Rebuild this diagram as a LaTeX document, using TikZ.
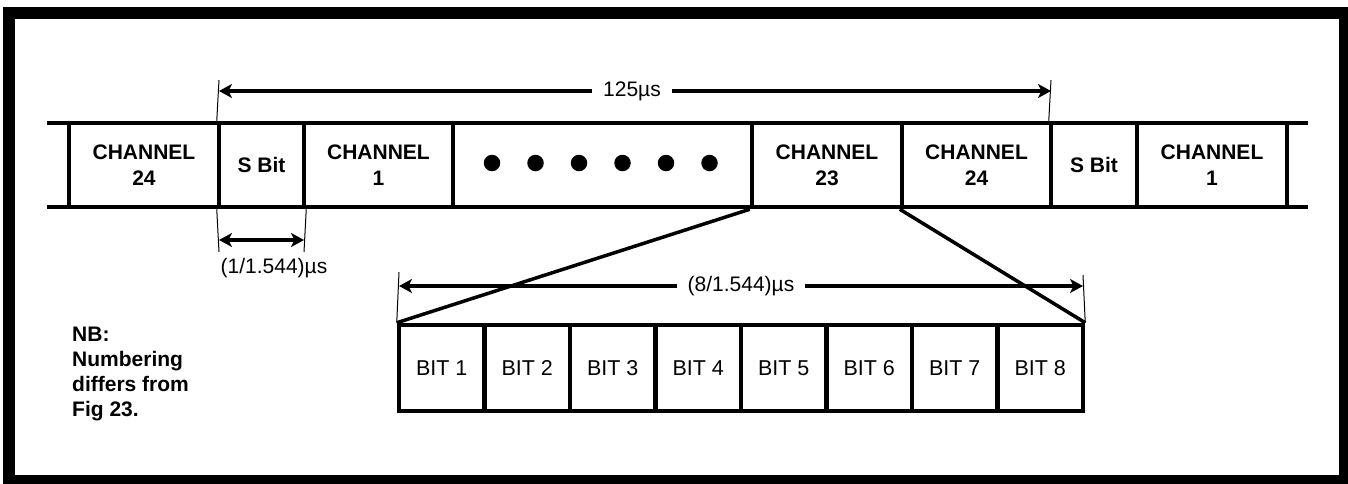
\documentclass[tikz,border=0pt]{standalone}
\usepackage{fontspec}
\setmainfont{Liberation Sans}
\usetikzlibrary{arrows.meta}
\begin{document}
\begin{tikzpicture}[x=1pt,y=-1pt,
  cell/.style={draw, line width=4.5pt, minimum height=84pt, inner sep=0pt,
    font=\bfseries\fontsize{21}{26}\selectfont, align=center},
  bitcell/.style={draw, line width=4.5pt, minimum height=86pt, minimum width=85.5pt,
    inner sep=0pt, font=\fontsize{21.5}{26}\selectfont},
  dotmark/.style={circle, fill, inner sep=0pt, minimum size=16.5pt},
  dimline/.style={line width=3.5pt,
    {Stealth[length=13pt,width=14pt,inset=3.5pt]}-{Stealth[length=13pt,width=14pt,inset=3.5pt]}},
  extline/.style={line width=1pt},
  rowline/.style={line width=4.5pt},
  dimlabel/.style={fill=white, inner xsep=11pt, inner ysep=2pt, font=\fontsize{21}{26}\selectfont},
  fanline/.style={line width=3.5pt}]
\useasboundingbox (0,0) rectangle (1348,483);
% outer border
\draw[line width=12pt] (8.5,13) rectangle (1345,481);

% frame row
\coordinate (lnw) at (47,123);
\coordinate (lsw) at (47,207);
\coordinate (rne) at (1308,123);
\coordinate (rse) at (1308,207);
\draw[rowline] (lnw) -- (rne);
\draw[rowline] (lsw) -- (rse);

\node[cell, minimum width=150pt] (c24a) at (144,165) {CHANNEL\\24};
\node[cell, minimum width=85pt]  (sa)   at (261.5,165) {S Bit};
\node[cell, minimum width=149pt] (c1a)  at (378.5,165) {CHANNEL\\1};
\node[cell, minimum width=299pt] (dots) at (602.5,165) {};
\node[cell, minimum width=150pt] (c23)  at (827,165) {CHANNEL\\23};
\node[cell, minimum width=149pt] (c24b) at (976.5,165) {CHANNEL\\24};
\node[cell, minimum width=86pt]  (sb)   at (1094,165) {S Bit};
\node[cell, minimum width=150pt] (c1b)  at (1212,165) {CHANNEL\\1};

% dots
\foreach \i/\x in {1/492,2/535.5,3/579,4/622.5,5/666,6/709.5}
  \node[dotmark] (d\i) at (\x,163) {};

% 125us dimension
\coordinate (ta) at (219,91);
\coordinate (tb) at (1051,91);
\coordinate (tae) at (219,80);
\coordinate (tbe) at (1051,80);
\draw[extline] (tae) -- (sa.north west);
\draw[extline] (tbe) -- (sb.north west);
\draw[dimline] (ta) -- (tb);
\node[dimlabel] (tl) at (632,91) {125µs};

% S bit dimension
\coordinate (sa1) at (219,240);
\coordinate (sa2) at (304,240);
\coordinate (sae1) at (219,252);
\coordinate (sae2) at (304,252);
\draw[extline] (sa.south west) -- (sae1);
\draw[extline] (sa.south east) -- (sae2);
\draw[dimline] (sa1) -- (sa2);
\node[font=\fontsize{21}{26}\selectfont] (sl) at (274,268) {(1/1.544)µs};

% bits row
\foreach \i in {1,...,8}
  \node[bitcell] (b\i) at ({399+85.5*(\i-0.5)},368) {BIT \i};

% fan lines
\draw[fanline] (c23.south west) -- (b1.north west);
\draw[fanline] (c24b.south west) -- (b8.north east);

% 8/1.544 dimension
\coordinate (ba) at (399,286);
\coordinate (bb) at (1083,286);
\coordinate (bae) at (399,272);
\coordinate (bbe) at (1083,275);
\draw[extline] (bae) -- (b1.north west);
\draw[extline] (bbe) -- (b8.north east);
\draw[dimline] (ba) -- (bb);
\node[dimlabel] (bl) at (741,286) {(8/1.544)µs};

% note
\node[anchor=west, align=left, inner sep=0pt,
  font=\bfseries\fontsize{21}{25}\selectfont] (nb) at (72,374)
  {NB:\\Numbering\\differs from\\Fig 23.};
\end{tikzpicture}
\end{document}
